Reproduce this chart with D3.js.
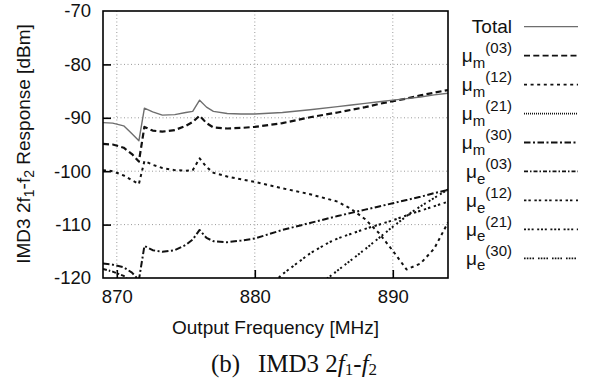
<!DOCTYPE html>
<html><head><meta charset="utf-8">
<script src="https://cdn.jsdelivr.net/npm/d3@7/dist/d3.min.js"></script>
<style>
html,body{margin:0;padding:0;background:#fff;}
svg{display:block;}
text{font-family:"Liberation Sans",Arial,sans-serif;}
text.cap{font-family:"Liberation Serif","Times New Roman",serif;}
</style></head>
<body>
<svg id="chart" width="592" height="378"></svg>
<script>
// ---------------- data ----------------
const freq = [869, 869.7, 870.5, 871.1, 871.6, 872.0, 872.6, 873.3, 874.2, 875.0, 875.5, 876.0, 876.5, 877.0, 878.0, 879, 880, 882, 884, 886, 887, 888, 889, 890, 891, 892, 893, 894];
const total = [-90.9, -91.0, -91.5, -93.0, -94.3, -88.2, -88.9, -89.5, -89.4, -89.0, -88.8, -86.7, -88.0, -88.8, -89.2, -89.3, -89.3, -89.0, -88.5, -87.9, -87.6, -87.3, -87.0, -86.7, -86.4, -86.1, -85.7, -85.4];
const muM03 = [-94.9, -95.0, -95.6, -96.8, -98.2, -91.7, -92.4, -92.6, -92.3, -91.5, -90.8, -89.6, -91.0, -91.8, -92.0, -91.9, -91.7, -91.0, -89.9, -89.0, -88.5, -88.0, -87.4, -86.9, -86.4, -85.8, -85.3, -84.8];
const muM12 = [-99.8, -100.0, -100.8, -101.7, -102.4, -98.1, -98.8, -99.4, -99.8, -99.9, -99.8, -97.6, -99.2, -100.3, -101.0, -101.5, -102.0, -103.2, -104.3, -105.7, -107.1, -109.0, -111.6, -114.9, -118.4, -117.3, -114.5, -109.6];
const muM30 = [-117.3, -117.5, -118.0, -119.0, -120.4, -114.0, -114.8, -115.1, -114.8, -113.8, -112.8, -111.0, -112.5, -113.1, -113.3, -113.0, -112.6, -111.0, -109.7, -108.4, -107.8, -107.2, -106.6, -106.0, -105.4, -104.8, -104.1, -103.5];
const muM21 = [-131.0, -131.5, -132.0, -133.0, -134.0, -128.0, -128.5, -128.8, -128.5, -127.8, -127.2, -125.5, -127.0, -127.6, -127.8, -127.6, -127.3, -126.4, -125.5, -124.6, -124.2, -123.8, -123.4, -123.0, -122.6, -122.2, -121.8, -121.4];
const muE30 = [-135.0, -135.2, -135.6, -136.2, -137.0, -133.0, -133.4, -133.6, -133.4, -132.8, -132.2, -130.6, -131.8, -132.4, -132.6, -132.4, -132.0, -131.0, -130.0, -129.0, -128.5, -128.0, -127.5, -127.0, -126.5, -126.0, -125.5, -125.0];
const freqE03 = [869, 869.7, 870.5, 871.1, 871.6];
const muE03 = [-118.3, -118.8, -119.6, -121.0, -122.0];
const freqE12 = [881.5, 882, 884, 885.4, 886, 888, 890, 891.4, 892, 894];
const muE12 = [-120.5, -119.3, -115.4, -113.3, -112.6, -110.8, -109.2, -107.9, -107.4, -105.7];
const freqE21 = [885.0, 885.4, 886, 888, 890, 891.4, 892, 894];
const muE21 = [-120.6, -119.8, -118.6, -114.6, -110.4, -107.6, -106.6, -103.4];

const xTicks = [870, 880, 890];
const yTicks = [-70, -80, -90, -100, -110, -120];
const legendNames = ["Total", "m|03", "m|12", "m|21", "m|30", "e|03", "e|12", "e|21", "e|30"];

// ---------------- layout ----------------
const M = {left: 103, top: 11, right: 448, bottom: 278};
const svg = d3.select("#chart");
const x = d3.scaleLinear().domain([869, 894]).range([M.left, M.right]);
const y = d3.scaleLinear().domain([-120, -70]).range([M.bottom, M.top]);

// grid
const grid = svg.append("g");
xTicks.forEach(t => grid.append("line")
  .attr("x1", x(t)).attr("x2", x(t)).attr("y1", M.top).attr("y2", M.bottom)
  .attr("stroke", "#9a9a9a").attr("stroke-width", 1).attr("stroke-dasharray", "1,2.5"));
yTicks.filter(t => t > -120 && t < -70).forEach(t => grid.append("line")
  .attr("x1", M.left).attr("x2", M.right).attr("y1", y(t)).attr("y2", y(t))
  .attr("stroke", "#9a9a9a").attr("stroke-width", 1).attr("stroke-dasharray", "1,2.5"));

// axes
const fontSize = 18.5;
const gx = svg.append("g").attr("transform", `translate(0,${M.bottom})`)
  .call(d3.axisBottom(x).tickValues(xTicks).tickSize(-8).tickPadding(12).tickFormat(d3.format("d")));
const gy = svg.append("g").attr("transform", `translate(${M.left},0)`)
  .call(d3.axisLeft(y).tickValues(yTicks).tickSize(-8).tickPadding(12).tickFormat(d3.format("d")));
[gx, gy].forEach(g => {
  g.select(".domain").remove();
  g.selectAll(".tick line").attr("stroke", "#000").attr("stroke-width", 1.6);
  g.selectAll(".tick text").attr("font-size", fontSize).attr("fill", "#111");
});
gy.selectAll(".tick").filter(d => d === -70 || d === -120).select("line").remove();
gy.selectAll(".tick text").text(d => d3.format("d")(d).replace("\u2212", "-"));

// clip
svg.append("clipPath").attr("id", "plotclip").append("rect")
  .attr("x", M.left).attr("y", M.top).attr("width", M.right - M.left).attr("height", M.bottom - M.top);

const styles = {
  "Total": {color: "#6e6e6e", width: 1.4, dash: null},
  "m|03": {color: "#111", width: 2.2, dash: "6,3.3"},
  "m|12": {color: "#111", width: 2, dash: "3,3.6"},
  "m|21": {color: "#111", width: 1.4, dash: "1,1"},
  "m|30": {color: "#111", width: 2, dash: "6.5,2.5,2,2.5"},
  "e|03": {color: "#111", width: 2, dash: "4,2,1.5,2"},
  "e|12": {color: "#111", width: 2, dash: "2.4,2,2.4,3.6"},
  "e|21": {color: "#111", width: 2, dash: "2,1.8,2,1.8,2,3.6"},
  "e|30": {color: "#111", width: 2, dash: "1.6,1.2,1.6,1.2,1.6,1.2,1.6,4"}
};

const series = [
  {key: "m|21", xs: freq, ys: muM21},
  {key: "e|30", xs: freq, ys: muE30},
  {key: "e|03", xs: freqE03, ys: muE03},
  {key: "e|12", xs: freqE12, ys: muE12},
  {key: "e|21", xs: freqE21, ys: muE21},
  {key: "m|30", xs: freq, ys: muM30},
  {key: "m|12", xs: freq, ys: muM12},
  {key: "m|03", xs: freq, ys: muM03},
  {key: "Total", xs: freq, ys: total}
];
const line = d3.line().x(d => x(d[0])).y(d => y(d[1]));
const plot = svg.append("g").attr("clip-path", "url(#plotclip)");
series.forEach(s => {
  const st = styles[s.key];
  plot.append("path").datum(s.xs.map((f, i) => [f, s.ys[i]]))
    .attr("d", line).attr("fill", "none")
    .attr("stroke", st.color).attr("stroke-width", st.width)
    .attr("stroke-dasharray", st.dash).attr("stroke-linejoin", "round");
});

// frame
svg.append("rect").attr("x", M.left).attr("y", M.top)
  .attr("width", M.right - M.left).attr("height", M.bottom - M.top)
  .attr("fill", "none").attr("stroke", "#000").attr("stroke-width", 1.6);

// axis labels
svg.append("text").attr("x", 275.5).attr("y", 334).attr("text-anchor", "middle")
  .attr("font-size", 19).attr("fill", "#111").text("Output Frequency [MHz]");
const yl = svg.append("text").attr("transform", "translate(29.5,144) rotate(-90)")
  .attr("text-anchor", "middle").attr("font-size", 19).attr("fill", "#111");
yl.append("tspan").text("IMD3 2f");
yl.append("tspan").attr("font-size", 14).attr("dy", 4).text("1");
yl.append("tspan").attr("dy", -4).text("-f");
yl.append("tspan").attr("font-size", 14).attr("dy", 4).text("2");
yl.append("tspan").attr("dy", -4).text(" Response [dBm]");

// legend
const legY0 = 26.7, legStep = 28.95;
const leg = svg.append("g");
legendNames.forEach((k, i) => {
  const yy = legY0 + i * legStep;
  const st = styles[k];
  leg.append("line").attr("x1", 524).attr("x2", 578).attr("y1", yy).attr("y2", yy)
    .attr("stroke", st.color).attr("stroke-width", k === "Total" ? 1.2 : 1.8)
    .attr("stroke-dasharray", st.dash);
  const t = leg.append("text").attr("x", 512).attr("y", yy + 6.6).attr("text-anchor", "end")
    .attr("font-size", 19).attr("fill", "#111");
  if (k === "Total") { t.text("Total"); }
  else {
    const [sub, sup] = k.split("|");
    t.append("tspan").text("\u03bc");
    t.append("tspan").attr("font-size", 15).attr("dy", 5.5).text(sub);
    t.append("tspan").attr("font-size", 15).attr("dy", -14.5).text("(" + sup + ")");
  }
});

// caption
const cap = svg.append("text").attr("class", "cap").attr("y", 372)
  .attr("font-size", 25).attr("fill", "#111");
cap.append("tspan").attr("x", 211).text("(b)");
cap.append("tspan").attr("x", 258).text("IMD3 2");
cap.append("tspan").attr("font-style", "italic").text("f");
cap.append("tspan").attr("font-size", 17).attr("dy", 3).text("1");
cap.append("tspan").attr("dy", -3).text("-");
cap.append("tspan").attr("font-style", "italic").text("f");
cap.append("tspan").attr("font-size", 17).attr("dy", 3).text("2");
</script>
</body></html>
